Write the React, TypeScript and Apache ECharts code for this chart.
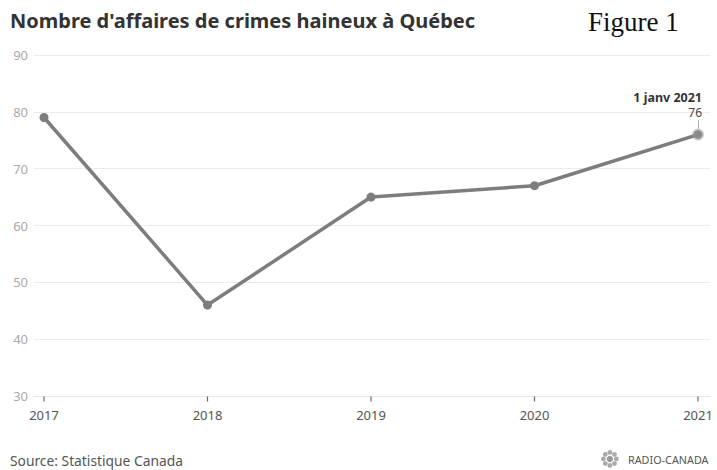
import React, { useEffect, useRef } from "react";
import * as echarts from "echarts";

const years = ["2017", "2018", "2019", "2020", "2021"];
const values = [79, 46, 65, 67, 76];
const yMin = 30;
const yMax = 90;
const yStep = 10;
const annotationDate = "1 janv 2021";
const title = "Nombre d'affaires de crimes haineux à Québec";
const source = "Source: Statistique Canada";

export default function App() {
  const ref = useRef<HTMLDivElement>(null);
  useEffect(() => {
    document.body.style.margin = "0";
    const chart = echarts.init(ref.current!, null, { renderer: "svg" });
    const lastIdx = years.length - 1;
    const data = values.map((v, i) =>
      i === lastIdx
        ? {
            value: v,
            itemStyle: { color: "#8a8a8a", borderColor: "rgba(150,150,150,0.45)", borderWidth: 3 },
            label: {
              show: true,
              position: "top",
              distance: 10,
              align: "right",
              offset: [4, 0],
              formatter: `{a|${annotationDate}}\n{b|${v}}`,
              rich: {
                a: { fontFamily: "Noto Sans", fontWeight: "bold", fontSize: 12.5, color: "#333", align: "right", lineHeight: 16 },
                b: { fontFamily: "Noto Sans", fontSize: 12, color: "#444", align: "right", lineHeight: 13 },
              },
            },
          }
        : v
    );
    chart.setOption({
      animation: false,
      grid: [
        { left: 34, right: 7, top: 55, bottom: 74, containLabel: false },
        { left: 44, right: 19, top: 55, bottom: 74, containLabel: false },
      ],
      xAxis: [
        {
          gridIndex: 0,
          type: "category",
          data: [""],
          splitLine: { show: false },
          axisLine: { show: true, lineStyle: { color: "#e6e6e6", width: 1 } },
          axisTick: { show: false },
          axisLabel: { show: false },
        },
        {
          gridIndex: 1,
          type: "category",
          data: years,
          boundaryGap: false,
          splitLine: { show: false },
          axisLine: { show: false },
          axisTick: { show: false },
          axisLabel: {
            color: "#555",
            fontSize: 13,
            fontFamily: "Noto Sans",
            margin: 12,
          },
        },
      ],
      yAxis: [
        {
          gridIndex: 0,
          type: "value",
          min: yMin,
          max: yMax,
          interval: yStep,
          axisLine: { show: false },
          axisTick: { show: false },
          splitLine: { lineStyle: { color: "#ebebeb", width: 1 } },
          axisLabel: { color: "#aaa", fontSize: 13, fontFamily: "Noto Sans", margin: 6 },
        },
        {
          gridIndex: 1,
          type: "value",
          min: yMin,
          max: yMax,
          interval: yStep,
          show: false,
          splitLine: { show: false },
        },
      ],
      series: [
        {
          type: "scatter",
          xAxisIndex: 1,
          yAxisIndex: 1,
          data: years.map(() => yMin),
          symbol: "rect",
          symbolSize: [1.2, 5],
          symbolOffset: [0, 3],
          itemStyle: { color: "#444" },
          clip: false,
          silent: true,
          z: 1,
        },
        {
          type: "line",
          xAxisIndex: 1,
          yAxisIndex: 1,
          data,
          symbol: "circle",
          symbolSize: 9,
          lineStyle: { color: "#7d7d7d", width: 3.5 },
          itemStyle: { color: "#7d7d7d" },
          z: 3,
          markLine: {
            silent: true,
            symbol: "none",
            label: { show: false },
            lineStyle: { color: "#aaa", width: 1, type: "solid" },
            data: [[{ coord: [lastIdx, values[lastIdx] + 1] }, { coord: [lastIdx, values[lastIdx] + 2.5] }]],
          },
        },
      ],
      graphic: [
        {
          type: "text",
          left: 10,
          top: 10,
          style: { text: title, font: "bold 20px 'Noto Sans'", fill: "#333" },
        },
        {
          type: "text",
          left: 588,
          top: 8,
          style: { text: "Figure 1", font: "27px 'Liberation Serif'", fill: "#111" },
        },
        {
          type: "text",
          left: 10,
          top: 453,
          style: { text: source, font: "13.8px 'Noto Sans'", fill: "#555" },
        },
        {
          type: "group",
          left: 601,
          top: 450,
          children: [
            { type: "circle", shape: { cx: 10, cy: 10, r: 3.2 }, style: { fill: "#999" } },
            ...Array.from({ length: 8 }, (_, k) => {
              const a = (k * Math.PI) / 4;
              return {
                type: "circle",
                shape: { cx: 10 + Math.cos(a) * 6.5, cy: 10 + Math.sin(a) * 6.5, r: 2.4 },
                style: { fill: "#aaa" },
              };
            }),
          ],
        },
        {
          type: "text",
          left: 628,
          top: 454,
          style: { text: "RADIO-CANADA", font: "10.8px 'Noto Sans'", fill: "#555" },
        },
      ],
    });
    return () => chart.dispose();
  }, []);
  return <div ref={ref} style={{ width: 717, height: 470 }} />;
}
